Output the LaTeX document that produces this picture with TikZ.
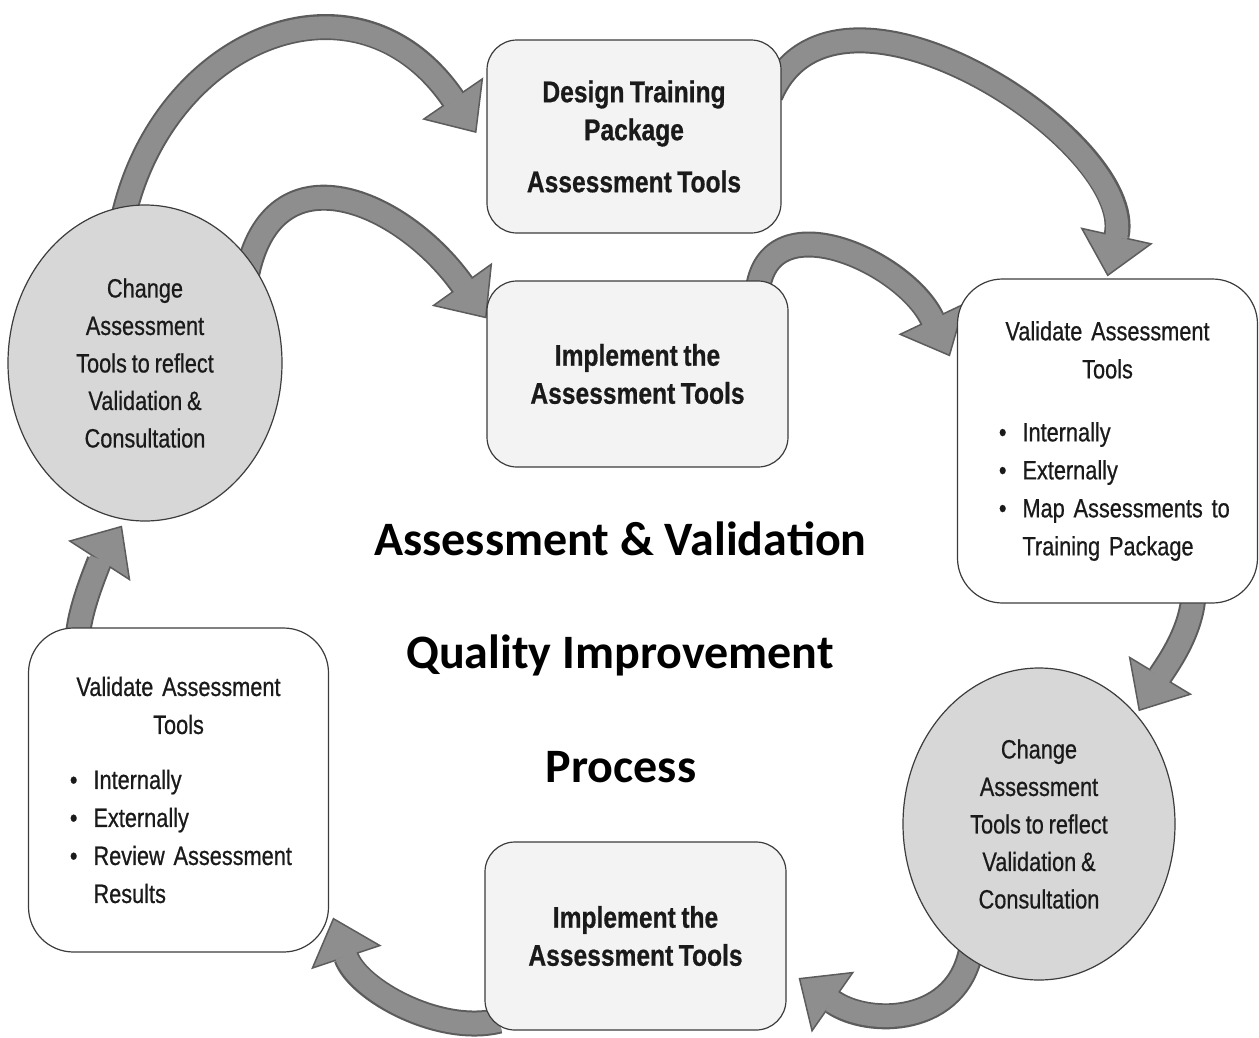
\documentclass[tikz,border=0pt]{standalone}
\usepackage{fontspec}
\setmainfont{Liberation Sans}[FakeStretch=0.82, WordSpace=0.8, FakeBold=0.6]
\newfontfamily\headfont{Carlito}
\usetikzlibrary{shapes.geometric,arrows.meta,calc}

\definecolor{edgegray}{HTML}{3C3C3C}
\definecolor{boxgray}{HTML}{F3F3F3}
\definecolor{circgray}{HTML}{D7D7D7}
\definecolor{arrowfill}{HTML}{8E8E8E}
\definecolor{arrowedge}{HTML}{5C5C5C}
\definecolor{inkgray}{HTML}{1A1A1A}

\pgfdeclarelayer{backdrop}
\pgfsetlayers{backdrop,main}

\newcommand{\bul}{\leavevmode\llap{\textbullet\hspace{16pt}}}
\newcommand{\flowarrow}[4]{%
  \draw[flowedge] #1 .. controls #2 and #3 .. #4;
  \draw[flowfill] #1 .. controls #2 and #3 .. #4;}

\tikzset{
  softbox/.style={draw=edgegray, line width=1.2pt, fill=boxgray, rounded corners=30pt,
    inner sep=0pt, align=center, font=\fontsize{30}{38}\selectfont\bfseries},
  listbox/.style={draw=edgegray, line width=1.2pt, fill=white, rounded corners=45pt,
    inner sep=0pt, text width=270pt, minimum width=300pt, minimum height=324pt,
    font=\fontsize{26.5}{38}\selectfont},
  roundnote/.style={ellipse, draw=edgegray, line width=1.2pt, fill=circgray, inner sep=0pt,
    align=center, font=\fontsize{26.5}{37.5}\selectfont},
  headline/.style={anchor=base, text=black, font=\headfont\bfseries\fontsize{48}{48}\selectfont},
  flowedge/.style={line width=26pt, draw=arrowedge,
    -{Triangle[length=42pt,width=74pt,line width=1.5pt,fill=arrowfill]}},
  flowfill/.style={line width=22pt, draw=arrowfill, shorten >=40pt},
}

\begin{document}
\begin{tikzpicture}[x=1pt, y=-1pt, text=inkgray]
	\useasboundingbox (0,0) rectangle (1259,1037);
	% Cajas
		\node[softbox, minimum width=294pt, minimum height=193pt] (design) at (634,136.5)
			{Design Training\\Package\\[14pt]Assessment Tools};
		\node[softbox, minimum width=301pt, minimum height=186pt] (implA) at (637.5,374)
			{Implement the\\Assessment Tools};
		\node[softbox, minimum width=301pt, minimum height=188pt] (implB) at (635.5,936)
			{Implement the\\Assessment Tools};
	% Validar
		\node[listbox] (valR) at (1107.5,441)
			{\centering Validate Assessment\\Tools\par\vspace{25pt}
			\raggedright\leftskip=50pt
			\bul Internally\par\bul Externally\par\bul Map Assessments to\\Training Package\par};
		\node[listbox] (valL) at (178.5,790)
			{\centering Validate Assessment\\Tools\par\vspace{17pt}
			\raggedright\leftskip=50pt
			\bul Internally\par\bul Externally\par\bul Review Assessment\\Results\par};
	% Circulos
		\node[roundnote, minimum width=274pt, minimum height=316pt] (circL) at (145,363)
			{Change\\Assessment\\Tools to reflect\\Validation \&\\Consultation};
		\node[roundnote, minimum width=272pt, minimum height=312pt] (circR) at (1039,824)
			{Change\\Assessment\\Tools to reflect\\Validation \&\\Consultation};
	% Titulo
		\node[headline] (title1) at (620.5,555) {Assessment \& Validation};
		\node[headline] (title2) at (620,668) {Quality Improvement};
		\node[headline] (title3) at (621,782) {Process};

	% Flechas
	\begin{pgfonlayer}{backdrop}
		\coordinate (tipA) at ($(design.west)+(-10,-3.5)$);
		\coordinate (tipB) at ($(implA.north west)+(0,38)$);
		\coordinate (tipC) at ($(valR.north west)+(-7,78)$);
		\coordinate (tipD) at ($(valR.north)+(0,-2)$);
		\coordinate (tipE) at ($(circR.50)+(5,0)$);
		\coordinate (tipF) at ($(implB.east)+(12,42)$);
		\coordinate (tipG) at ($(valL.south east)+(4,-35)$);
		\coordinate (tipH) at ($(circL.south)+(-23,4)$);

		\flowarrow{($(circL.98)+(0,12)$)}{+(40,-180)}{+(-120,-175)}{(tipA)}
		\flowarrow{($(circL.41)+(-8,8)$)}{+(26,-130)}{+(-85,-119)}{(tipB)}
		\flowarrow{($(implA.north east)+(-31,11)$)}{+(10,-92)}{+(-45,-95)}{(tipC)}
		\flowarrow{($(design.east)+(-11,-41.5)$)}{+(65,-150)}{+(30,-135)}{(tipD)}
		\flowarrow{($(valR.south east)+(-64.5,-13)$)}{+(0,40)}{+(26,-43)}{(tipE)}
		\flowarrow{($(circR.240)+(8,-8)$)}{+(-12,79)}{+(70,49)}{(tipF)}
		\flowarrow{($(implB.south west)+(15,-10)$)}{+(-60,15)}{+(24,72)}{(tipG)}
		\flowarrow{($(valL.north west)+(50,12)$)}{+(0,-30)}{+(-20,31)}{(tipH)}
	\end{pgfonlayer}
\end{tikzpicture}
\end{document}
